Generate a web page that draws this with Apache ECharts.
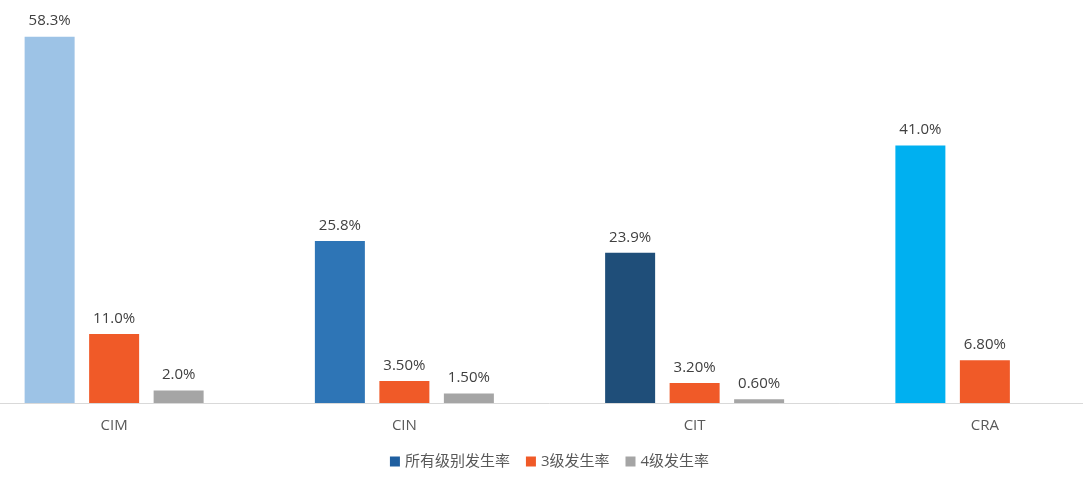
<!DOCTYPE html>
<html>
<head>
<meta charset="utf-8">
<script src="https://cdn.jsdelivr.net/npm/echarts@6/dist/echarts.min.js"></script>
<style>
  html, body { margin: 0; padding: 0; background: #fff; overflow: hidden; }
  #box { width: 1161px; height: 478px; margin-left: -31px; }
</style>
</head>
<body>
<div id="box"></div>
<script>
// 数据
var categories = ['CIM', 'CIN', 'CIT', 'CRA']
var seriesNames = ['所有级别发生率', '3级发生率', '4级发生率']
var allGrade = [58.3, 25.8, 23.9, 41.0]
var grade3 = [11.0, 3.5, 3.2, 6.8]
var grade4 = [2.0, 1.5, 0.6, null]
// 标签文字（原图小数位不统一）
var allGradeLabels = ['58.3%', '25.8%', '23.9%', '41.0%']
var grade3Labels = ['11.0%', '3.50%', '3.20%', '6.80%']
var grade4Labels = ['2.0%', '1.50%', '0.60%', '']
// 每个类别的第一组柱子颜色
var allGradeColors = ['#9DC3E6', '#2E75B6', '#1F4E79', '#00B0F0']

// 图表比画面宽一些（原图左右被裁掉），用负边距对齐
var box = document.getElementById('box')
var myChart = echarts.init(box)

var fontFamily = '"Segoe UI", "Open Sans", "Microsoft YaHei", "Noto Sans CJK SC", sans-serif'

function makeLabel(texts) {
    return {
        show: true,
        position: 'top',
        distance: 8,
        color: '#404040',
        fontSize: 15,
        fontFamily: fontFamily,
        formatter: function (p) {
            return texts[p.dataIndex]
        }
    }
}

var option = {
    animation: false,
    textStyle: { fontFamily: fontFamily },
    grid: {
        left: 0,
        right: 0,
        top: 26,
        bottom: 75,
        containLabel: false
    },
    legend: {
        bottom: 4,
        left: 'center',
        itemWidth: 10,
        itemHeight: 10,
        itemGap: 16,
        icon: 'rect',
        textStyle: { color: '#595959', fontSize: 15, fontFamily: fontFamily },
        data: seriesNames
    },
    xAxis: {
        type: 'category',
        data: categories,
        axisLine: { lineStyle: { color: '#D9D9D9', width: 1 } },
        axisTick: { show: false },
        axisLabel: { color: '#595959', fontSize: 15, margin: 15, fontFamily: fontFamily }
    },
    yAxis: {
        type: 'value',
        min: 0,
        max: 60,
        show: false,
        splitLine: { show: false }
    },
    series: [{
        name: seriesNames[0],
        type: 'bar',
        barWidth: 50,
        barGap: '29%',
        itemStyle: { color: '#1F5FA0' },
        label: makeLabel(allGradeLabels),
        data: allGrade.map(function (v, i) {
            return { value: v, itemStyle: { color: allGradeColors[i] } }
        })
    }, {
        name: seriesNames[1],
        type: 'bar',
        barWidth: 50,
        barGap: '29%',
        itemStyle: { color: '#F05A28' },
        label: makeLabel(grade3Labels),
        data: grade3
    }, {
        name: seriesNames[2],
        type: 'bar',
        barWidth: 50,
        barGap: '29%',
        itemStyle: { color: '#A5A5A5' },
        label: makeLabel(grade4Labels),
        data: grade4
    }]
}

myChart.setOption(option)
</script>
</body>
</html>
